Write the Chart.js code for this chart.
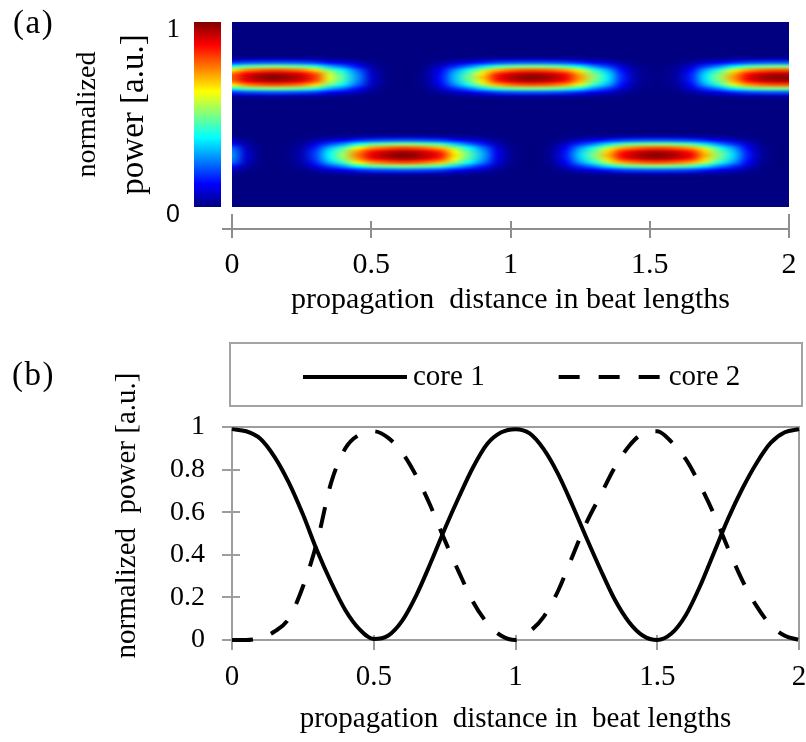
<!DOCTYPE html>
<html>
<head>
<meta charset="utf-8">
<title>Two-core coupler power exchange</title>
<script src="https://cdn.jsdelivr.net/npm/chart.js@4.4.1/dist/chart.umd.min.js"></script>
<style>
  html, body { margin: 0; padding: 0; background: #ffffff; }
  #wrap { position: relative; width: 806px; height: 742px; overflow: hidden; }
  #wrap canvas { position: absolute; left: 0; }
  #mapCanvas { top: 0; }
  #lineCanvas { top: 330px; }
  .panel-tag {
    position: absolute;
    font-family: "Liberation Serif", "Times New Roman", serif;
    font-size: 33px;
    line-height: 33px;
    letter-spacing: 1.5px;
    color: #000;
  }
</style>
</head>
<body>
<div id="wrap">
  <canvas id="mapCanvas" width="806" height="330"></canvas>
  <canvas id="lineCanvas" width="806" height="412"></canvas>
  <div class="panel-tag" style="left:13px; top:6px;">(a)</div>
  <div class="panel-tag" style="left:12px; top:358px;">(b)</div>
</div>
<script>
// ---- data -------------------------------------------------------------
// propagation distance samples, in beat lengths
const distance = [0, 0.05, 0.1, 0.15, 0.2, 0.25, 0.3, 0.35, 0.4, 0.45,
                  0.5, 0.55, 0.6, 0.65, 0.7, 0.75, 0.8, 0.85, 0.9, 0.95,
                  1, 1.05, 1.1, 1.15, 1.2, 1.25, 1.3, 1.35, 1.4, 1.45,
                  1.5, 1.55, 1.6, 1.65, 1.7, 1.75, 1.8, 1.85, 1.9, 1.95, 2];

// normalized power in each core (panel b)
const core1Power = [0.99, 0.98, 0.945, 0.86, 0.74, 0.59, 0.42, 0.27, 0.14, 0.05,
                    0.005, 0.02, 0.09, 0.21, 0.36, 0.52, 0.67, 0.81, 0.92, 0.975,
                    0.99, 0.97, 0.895, 0.78, 0.635, 0.48, 0.33, 0.19, 0.085, 0.02,
                    0.00, 0.03, 0.115, 0.25, 0.41, 0.57, 0.71, 0.83, 0.925, 0.975, 0.99];
const core2Power = [0.00, 0.00, 0.01, 0.04, 0.10, 0.25, 0.46, 0.74, 0.90, 0.965,
                    0.98, 0.95, 0.88, 0.77, 0.63, 0.47, 0.32, 0.18, 0.08, 0.02,
                    0.00, 0.04, 0.11, 0.23, 0.39, 0.55, 0.68, 0.81, 0.91, 0.97,
                    0.98, 0.93, 0.85, 0.73, 0.59, 0.43, 0.28, 0.16, 0.07, 0.02, 0.00];

// field map (panel a): peak intensity along the upper and lower core
const upperCoreMap = [0.80, 0.92, 0.975, 1.00, 0.98, 0.935, 0.83, 0.60, 0.45, 0.27,
                      0.08, 0.01, 0.00, 0.00, 0.03, 0.14, 0.32, 0.49, 0.68, 0.87,
                      0.95, 0.99, 0.99, 0.96, 0.89, 0.73, 0.52, 0.36, 0.16, 0.04,
                      0.01, 0.01, 0.04, 0.16, 0.36, 0.52, 0.73, 0.89, 0.96, 0.99, 0.99];
const lowerCoreMap = [0.27, 0.08, 0.01, 0.00, 0.01, 0.05, 0.19, 0.38, 0.54, 0.76,
                      0.90, 0.96, 1.00, 0.99, 0.94, 0.86, 0.65, 0.47, 0.30, 0.11,
                      0.02, 0.00, 0.00, 0.03, 0.15, 0.34, 0.50, 0.70, 0.88, 0.95,
                      0.99, 0.99, 0.95, 0.88, 0.70, 0.50, 0.34, 0.15, 0.03, 0.00, 0.00];
// transverse mode profile, one value per 0.02 step away from a core centre
const modeProfile = [1.00, 0.95, 0.80, 0.50, 0.22, 0.05];
// core centres on the 0..1 vertical map scale
const upperCoreCentre = 0.70;
const lowerCoreCentre = 0.28;

// tick labels
const distanceTicks = ['0', '0.5', '1', '1.5', '2'];
const powerTicks = ['0', '0.2', '0.4', '0.6', '0.8', '1'];
const colorbarValues = [0, 1];
const colorbarTicks = ['0', '1'];

// ---- helpers ----------------------------------------------------------
const SERIF = '"Liberation Serif", "Times New Roman", serif';
const SANS = '"Liberation Sans", Arial, sans-serif';
const MAP_ROW_STEP = 0.02;
const MAP_ROWS = 51;          // 0 .. 1 in steps of 0.02

function jet(v) {
  const c = (t) => Math.max(0, Math.min(1, t));
  return [c(1.5 - Math.abs(4 * v - 3)), c(1.5 - Math.abs(4 * v - 2)), c(1.5 - Math.abs(4 * v - 1))]
    .map((t) => Math.round(t * 255));
}

function modeAt(rowValue, centre) {
  const k = Math.round(Math.abs(rowValue - centre) / MAP_ROW_STEP);
  return k < modeProfile.length ? modeProfile[k] : 0;
}

function mapCell(col, row) {
  const yv = row * MAP_ROW_STEP;
  const v = upperCoreMap[col] * modeAt(yv, upperCoreCentre) +
            lowerCoreMap[col] * modeAt(yv, lowerCoreCentre);
  return Math.min(1, v);
}

// tick labels sit outside the plot; keep them from shrinking the plot area
function noLabelOverhang(s) {
  s.paddingLeft = 0; s.paddingRight = 0; s.paddingTop = 0; s.paddingBottom = 0;
}

// ---- panel (a) plugins -------------------------------------------------
const fieldMapPlugin = {
  id: 'fieldMap',
  beforeDatasetsDraw(chart) {
    const { ctx, scales: { x, y }, chartArea } = chart;
    const cols = distance.length;

    // one texel per map cell, scaled up with smoothing
    const tex = document.createElement('canvas');
    tex.width = cols;
    tex.height = MAP_ROWS;
    const tctx = tex.getContext('2d');
    const img = tctx.createImageData(cols, MAP_ROWS);
    for (let r = 0; r < MAP_ROWS; r++) {
      for (let c = 0; c < cols; c++) {
        const [R, G, B] = jet(mapCell(c, r));
        const i = ((MAP_ROWS - 1 - r) * cols + c) * 4;
        img.data[i] = R; img.data[i + 1] = G; img.data[i + 2] = B; img.data[i + 3] = 255;
      }
    }
    tctx.putImageData(img, 0, 0);

    const x0 = x.getPixelForValue(distance[0]);
    const x1 = x.getPixelForValue(distance[cols - 1]);
    const yTop = y.getPixelForValue(1);
    const yBot = y.getPixelForValue(0);
    const cw = (x1 - x0) / (cols - 1);
    const ch = (yBot - yTop) / (MAP_ROWS - 1);

    ctx.save();
    ctx.beginPath();
    ctx.rect(x0, yTop, x1 - x0, yBot - yTop);
    ctx.clip();
    ctx.imageSmoothingEnabled = true;
    ctx.imageSmoothingQuality = 'high';
    ctx.drawImage(tex, x0 - cw / 2, yTop - ch / 2, (x1 - x0) + cw, (yBot - yTop) + ch);
    ctx.restore();

    // colour bar
    const barLeft = chartArea.left - 38;
    const barWidth = 27;
    const grad = ctx.createLinearGradient(0, yBot, 0, yTop);
    [0, 0.125, 0.375, 0.625, 0.875, 1].forEach((v) => {
      const [R, G, B] = jet(v);
      grad.addColorStop(v, `rgb(${R},${G},${B})`);
    });
    ctx.save();
    ctx.fillStyle = grad;
    ctx.fillRect(barLeft, yTop, barWidth, yBot - yTop);
    ctx.restore();
  }
};

const mapAxisPlugin = {
  id: 'mapAxis',
  afterDraw(chart) {
    const { ctx, scales: { x }, chartArea } = chart;
    const ay = chartArea.bottom + 22;
    ctx.save();
    ctx.strokeStyle = '#8e8e8e';
    ctx.lineWidth = 2;
    ctx.beginPath();
    ctx.moveTo(chartArea.left - 10, ay);
    ctx.lineTo(x.getPixelForValue(2), ay);
    x.ticks.forEach((t, i) => {
      const px = Math.round(x.getPixelForValue(t.value));
      const end = i === 0 || i === x.ticks.length - 1;
      ctx.moveTo(px, ay - (end ? 15 : 8));
      ctx.lineTo(px, ay + 9);
    });
    ctx.stroke();
    ctx.restore();
  }
};

new Chart(document.getElementById('mapCanvas'), {
  type: 'scatter',
  data: { datasets: [] },
  options: {
    responsive: false,
    animation: false,
    devicePixelRatio: 1,
    layout: { padding: { left: 60, right: 17, top: 22, bottom: 0 } },
    plugins: { legend: { display: false }, tooltip: { enabled: false } },
    scales: {
      x: {
        type: 'linear', min: 0, max: 2, position: 'bottom',
        grid: { display: false, drawTicks: false },
        border: { display: false },
        ticks: {
          stepSize: 0.5, padding: 40, color: '#000',
          font: { family: SERIF, size: 30 },
          callback: (v, i) => distanceTicks[i]
        },
        title: {
          display: true, text: 'propagation  distance in beat lengths', color: '#000',
          font: { family: SERIF, size: 30 }, padding: { top: 0, bottom: 12 }
        },
        afterFit: (s) => { s.height = 123; noLabelOverhang(s); }
      },
      y: {
        type: 'linear', min: 0, max: 1, position: 'left', weight: 0,
        grid: { display: false, drawTicks: false },
        border: { display: false },
        afterBuildTicks: (s) => { s.ticks = colorbarValues.map((v) => ({ value: v })); },
        ticks: {
          padding: 52, labelOffset: 8, color: '#000',
          font: (c) => (c.tick && c.tick.value === 0)
            ? { family: SANS, size: 25 }
            : { family: SERIF, size: 27 },
          callback: (v, i) => colorbarTicks[i]
        },
        title: {
          display: true, text: 'power [a.u.]', color: '#000',
          font: { family: SERIF, size: 33 }, padding: { top: 0, bottom: 0 }
        },
        afterFit: (s) => { s.width = 117; noLabelOverhang(s); }
      },
      yn: {
        type: 'linear', min: 0, max: 1, position: 'left', weight: 1,
        grid: { display: false, drawTicks: false },
        border: { display: false },
        ticks: { display: false },
        title: {
          display: true, text: 'normalized', color: '#000',
          font: { family: SERIF, size: 28 }, padding: { top: 11, bottom: 0 }
        },
        afterFit: (s) => { s.width = 55; noLabelOverhang(s); }
      }
    }
  },
  plugins: [fieldMapPlugin, mapAxisPlugin]
});

// ---- panel (b) plugins -------------------------------------------------
const framePlugin = {
  id: 'plotFrame',
  beforeDatasetsDraw(chart) {
    const { ctx, chartArea: a, scales: { x, y } } = chart;
    ctx.save();
    ctx.strokeStyle = '#9d9d9d';
    ctx.lineWidth = 2;
    ctx.strokeRect(a.left, a.top, a.right - a.left, a.bottom - a.top);
    ctx.beginPath();
    y.ticks.forEach((t) => {
      const py = Math.round(y.getPixelForValue(t.value));
      ctx.moveTo(a.left - 10, py);
      ctx.lineTo(a.left + 8, py);
    });
    x.ticks.forEach((t) => {
      const px = Math.round(x.getPixelForValue(t.value));
      ctx.moveTo(px, a.bottom - 5);
      ctx.lineTo(px, a.bottom + 10);
    });
    ctx.stroke();
    ctx.restore();
  }
};

const legendBoxPlugin = {
  id: 'legendBox',
  afterDraw(chart) {
    const { ctx, chartArea: a } = chart;
    const l = a.left - 2, r = a.right + 3, t = a.top - 84, b = a.top - 21;
    ctx.save();
    ctx.strokeStyle = '#a3a3a3';
    ctx.lineWidth = 2;
    ctx.strokeRect(l, t, r - l, b - t);
    const cy = t + 34;
    ctx.font = '29px ' + SERIF;
    ctx.textBaseline = 'middle';
    ctx.fillStyle = '#000';
    let px = l + 73;
    chart.data.datasets.forEach((ds) => {
      ctx.save();
      ctx.strokeStyle = ds.borderColor;
      ctx.lineWidth = ds.borderWidth;
      ctx.lineCap = 'butt';
      ctx.setLineDash(ds.borderDash || []);
      ctx.beginPath();
      ctx.moveTo(px, cy);
      ctx.lineTo(px + 104, cy);
      ctx.stroke();
      ctx.restore();
      px += 110;
      ctx.fillText(ds.label, px, cy);
      px += ctx.measureText(ds.label).width + 74;
    });
    ctx.restore();
  }
};

// raise the vertical axis title a little above the plot's middle
const titleLiftPlugin = {
  id: 'titleLift',
  afterLayout(chart) {
    const s = chart.scales.y;
    s.top -= 18;
    s.bottom -= 18;
  }
};

const toPoints = (ys) => distance.map((d, i) => ({ x: d, y: ys[i] }));

new Chart(document.getElementById('lineCanvas'), {
  type: 'line',
  data: {
    datasets: [
      {
        label: 'core 1', data: toPoints(core1Power),
        borderColor: '#000', borderWidth: 4, pointRadius: 0,
        cubicInterpolationMode: 'monotone', fill: false, clip: false
      },
      {
        label: 'core 2', data: toPoints(core2Power),
        borderColor: '#000', borderWidth: 4, borderDash: [21, 19], borderCapStyle: 'butt',
        pointRadius: 0, cubicInterpolationMode: 'monotone', fill: false, clip: false
      }
    ]
  },
  options: {
    responsive: false,
    animation: false,
    devicePixelRatio: 1,
    layout: { padding: { left: 100, right: 7, top: 97, bottom: 0 } },
    plugins: { legend: { display: false }, tooltip: { enabled: false } },
    scales: {
      x: {
        type: 'linear', min: 0, max: 2,
        grid: { display: false, drawTicks: false },
        border: { display: false },
        ticks: {
          stepSize: 0.5, padding: 20, color: '#000',
          font: { family: SERIF, size: 29 },
          callback: (v, i) => distanceTicks[i]
        },
        title: {
          display: true, text: 'propagation  distance in  beat lengths', color: '#000',
          font: { family: SERIF, size: 29 }, padding: { top: 0, bottom: 5 }
        },
        afterFit: (s) => { s.height = 102; noLabelOverhang(s); }
      },
      y: {
        type: 'linear', min: 0, max: 1,
        grid: { display: false, drawTicks: false },
        border: { display: false },
        ticks: {
          stepSize: 0.2, padding: 27, color: '#000',
          font: { family: SERIF, size: 28 },
          callback: (v, i) => powerTicks[i]
        },
        title: {
          display: true, text: 'normalized  power [a.u.]', color: '#000',
          font: { family: SERIF, size: 29 }, padding: { top: 10, bottom: 0 }
        },
        afterFit: (s) => { s.width = 132; noLabelOverhang(s); }
      }
    }
  },
  plugins: [framePlugin, legendBoxPlugin, titleLiftPlugin]
});
</script>
</body>
</html>
